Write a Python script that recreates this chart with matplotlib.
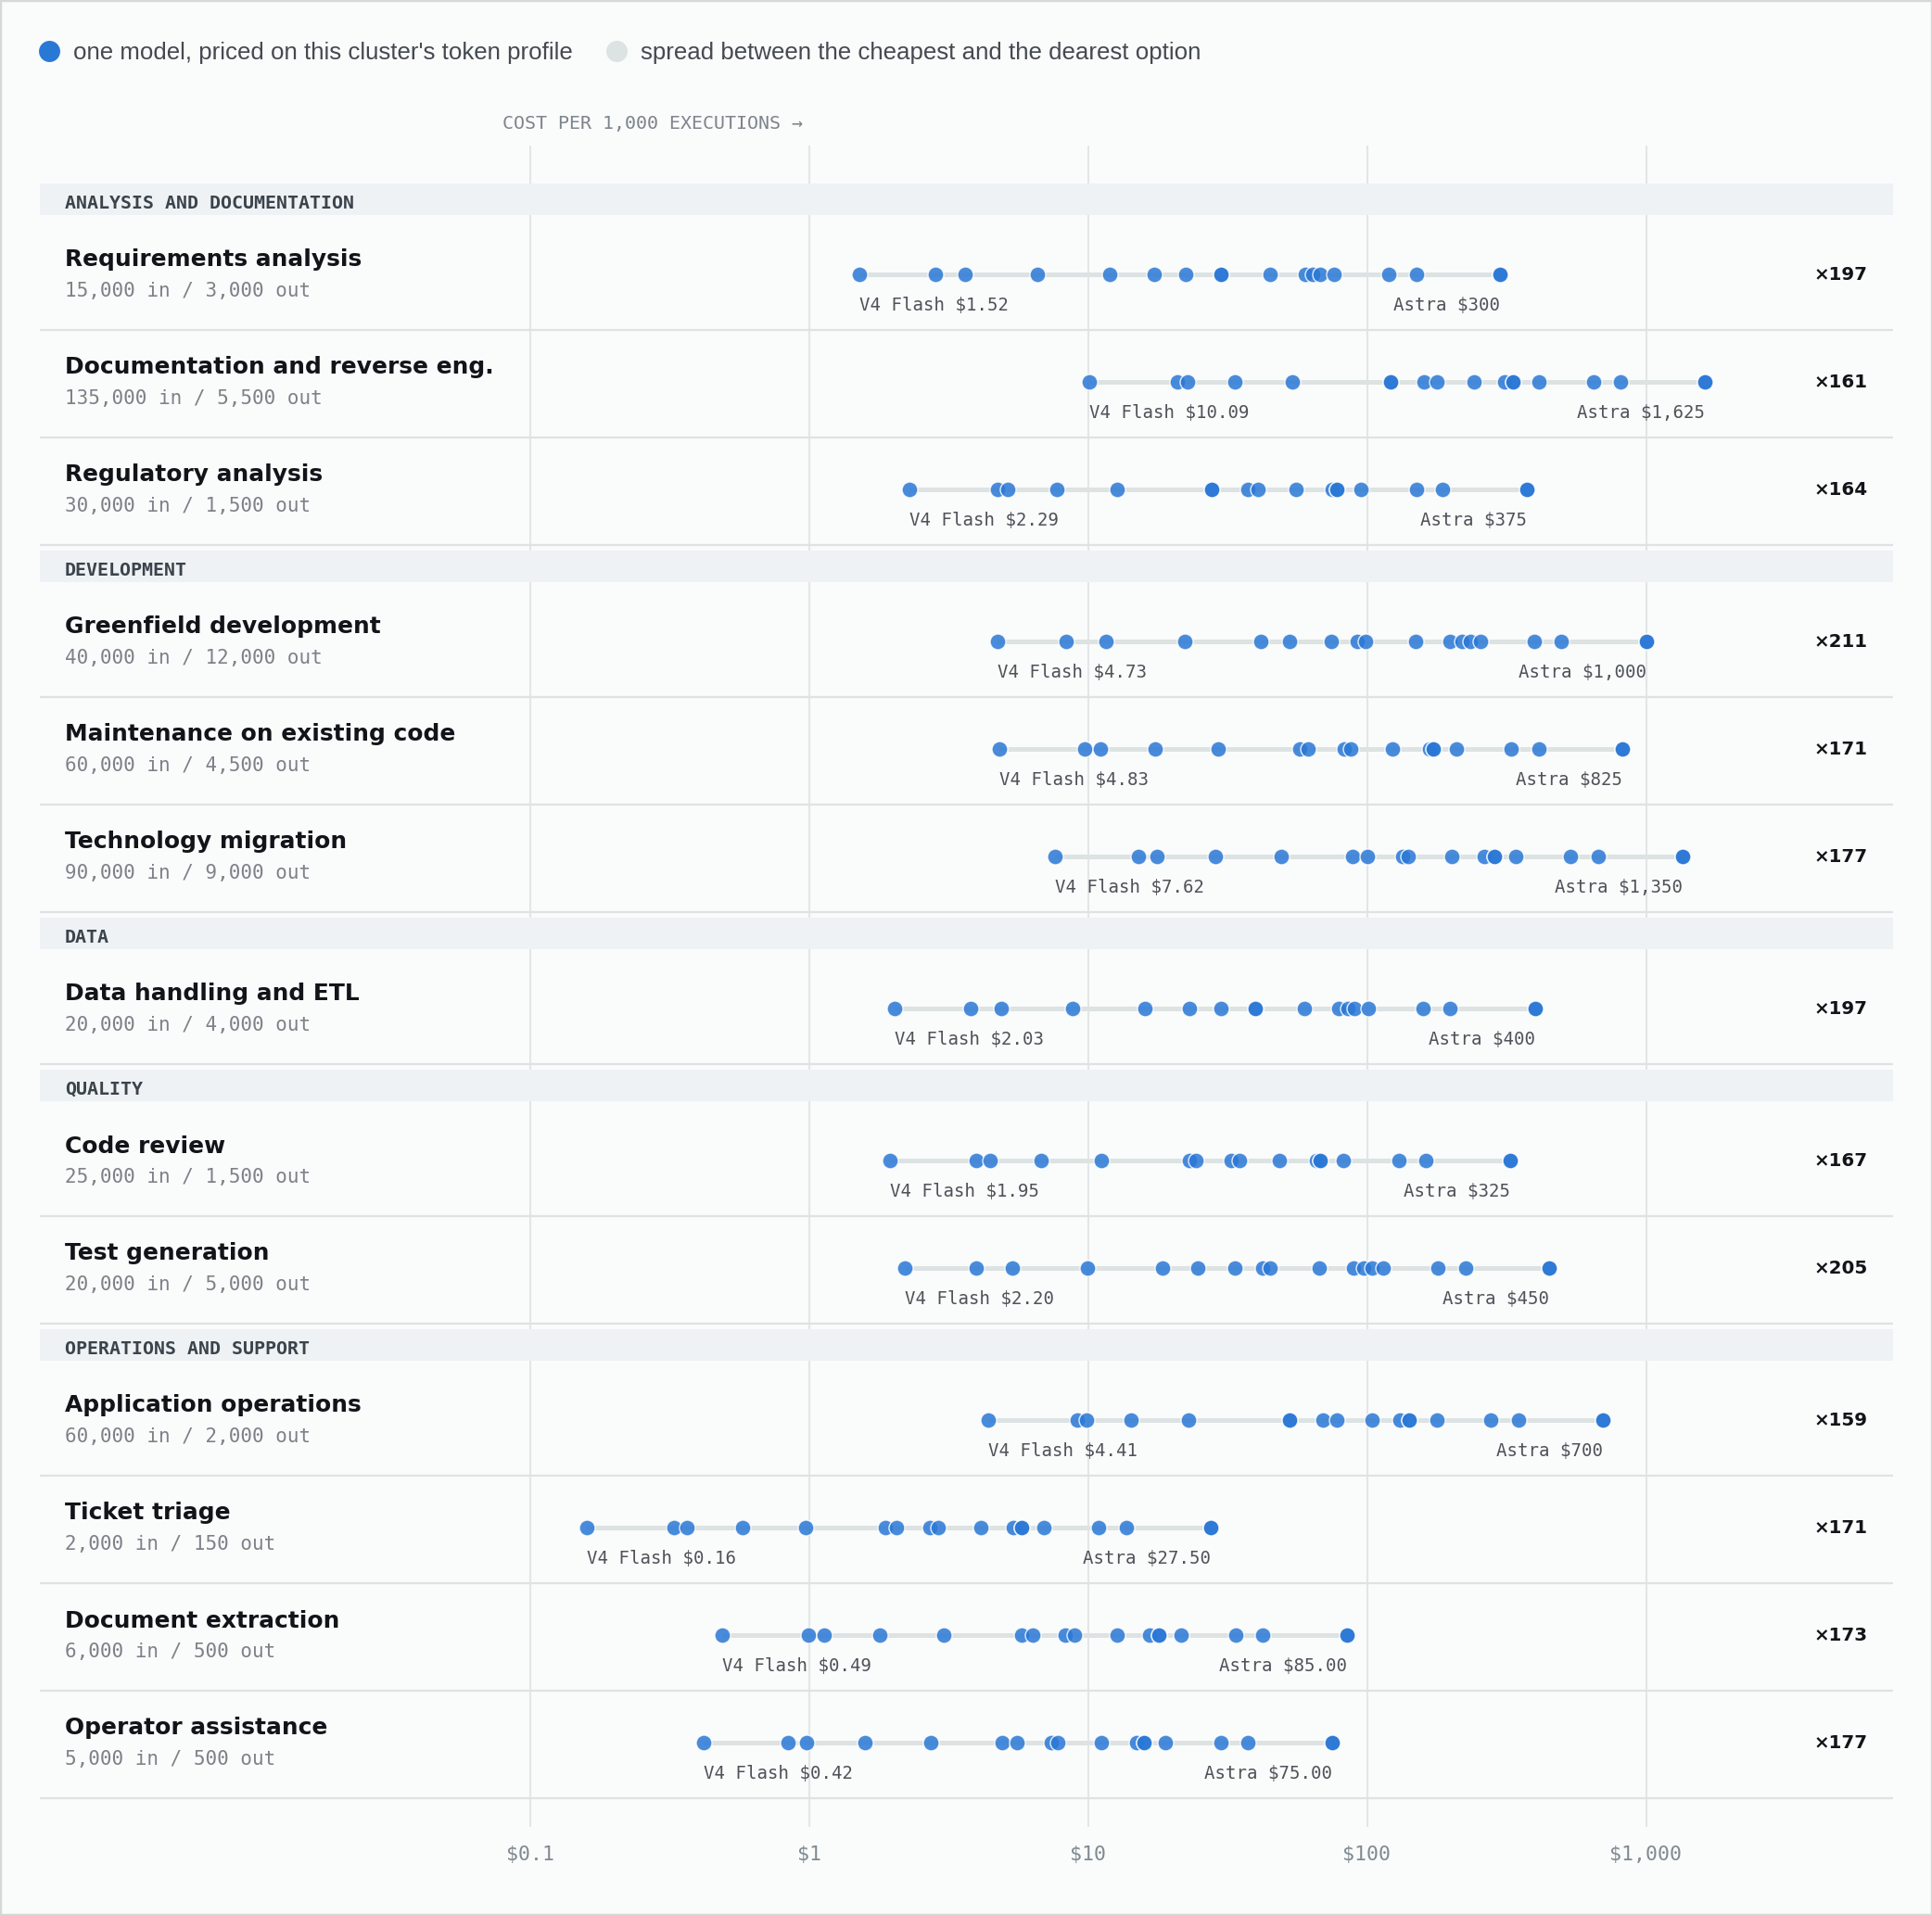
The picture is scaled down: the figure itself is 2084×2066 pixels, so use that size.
import matplotlib
matplotlib.use("Agg")
import matplotlib.pyplot as plt
import numpy as np
from matplotlib.lines import Line2D
from matplotlib.patches import Rectangle
from matplotlib.ticker import NullLocator
import matplotlib.transforms as mtransforms

# ---- data (cost per 1,000 executions, USD; one value per model) ----
groups = ["ANALYSIS AND DOCUMENTATION", "DEVELOPMENT", "DATA", "QUALITY",
          "OPERATIONS AND SUPPORT"]
row_group = [0, 0, 0, 1, 1, 1, 2, 3, 3, 4, 4, 4, 4]
tasks = ["Requirements analysis", "Documentation and reverse eng.",
         "Regulatory analysis", "Greenfield development",
         "Maintenance on existing code", "Technology migration",
         "Data handling and ETL", "Code review", "Test generation",
         "Application operations", "Ticket triage", "Document extraction",
         "Operator assistance"]
tokens_in = [15000, 135000, 30000, 40000, 60000, 90000, 20000, 25000, 20000,
             60000, 2000, 6000, 5000]
tokens_out = [3000, 5500, 1500, 12000, 4500, 9000, 4000, 1500, 5000,
              2000, 150, 500, 500]
ratios = [197, 161, 164, 211, 171, 177, 197, 167, 205, 159, 171, 173, 177]

costs = [
    [1.52, 2.85, 3.64, 6.6, 12.0, 17.3, 22.4, 29.9, 29.9, 44.9, 60.1, 64.1,
     67.9, 76.0, 120, 150, 300, 300],
    [10.09, 20.9, 22.8, 33.5, 54.0, 121.5, 121.5, 159.6, 178.6, 241.6, 311.5,
     333.4, 333.4, 413, 647, 810, 1625, 1625],
    [2.29, 4.76, 5.17, 7.75, 12.7, 27.7, 27.7, 37.3, 40.7, 55.9, 74.9, 77.9,
     77.9, 95.1, 150, 187, 375, 375],
    [4.73, 8.38, 11.6, 22.3, 41.8, 52.8, 74.6, 92.1, 99.2, 149, 199, 219, 234,
     255, 399, 497, 1000, 1000],
    [4.83, 9.77, 11.05, 17.4, 29.2, 57.3, 61.5, 82.9, 87.8, 123, 168, 173,
     173, 209, 329, 412, 825, 825],
    [7.62, 15.2, 17.7, 28.6, 49.2, 88.9, 100.6, 133.9, 140.4, 201, 263, 286,
     286, 342, 538, 673, 1350, 1350],
    [2.03, 3.80, 4.88, 8.79, 16.0, 23.1, 29.9, 39.8, 39.8, 59.8, 79.3, 85.4,
     90.5, 101.4, 159, 199, 400, 400],
    [1.95, 3.99, 4.45, 6.78, 11.2, 23.1, 24.4, 32.5, 35.0, 48.7, 65.7, 67.7,
     67.7, 82.5, 130, 162, 325, 325],
    [2.20, 3.99, 5.35, 9.98, 18.5, 24.8, 33.7, 42.3, 44.8, 67.4, 89.2, 97.4,
     104.1, 114.6, 179, 225, 450, 450],
    [4.41, 9.17, 9.92, 14.3, 22.9, 52.7, 52.7, 69.3, 77.9, 104, 131, 142, 142,
     178, 278, 349, 700, 700],
    [0.16, 0.328, 0.367, 0.578, 0.971, 1.886, 2.054, 2.71, 2.91, 4.12, 5.41,
     5.78, 5.78, 6.97, 10.96, 13.7, 27.5, 27.5],
    [0.49, 0.995, 1.133, 1.795, 3.04, 5.77, 6.36, 8.29, 8.97, 12.7, 16.6,
     17.9, 17.9, 21.6, 33.8, 42.4, 85.0, 85.0],
    [0.42, 0.845, 0.984, 1.59, 2.74, 4.93, 5.59, 7.37, 7.82, 11.2, 14.9,
     15.9, 15.9, 19.0, 29.9, 37.4, 75.0, 75.0],
]
tick_vals = [0.1, 1, 10, 100, 1000]
tick_labels = ["$0.1", "$1", "$10", "$100", "$1,000"]

# ---- style ----
W, H = 2084, 2066
BG = "#fafbfb"
BLUE = "#2a78d6"
SPREAD = "#dde2e2"
GRID = "#e3e6e7"
BAND = "#eef2f5"
SANS = "DejaVu Sans"
MONO = "DejaVu Sans Mono"


def money(v):
    if v >= 100:
        return "${:,.0f}".format(v)
    return "${:.2f}".format(v)


fig = plt.figure(figsize=(W / 100, H / 100), dpi=100, facecolor=BG)
top, bottom, left, right = 157, 1971, 43, 2042
ax = fig.add_axes([left / W, 1 - bottom / H, (right - left) / W, (bottom - top) / H])
ax.set_facecolor("none")
ax.set_xscale("log")
# $0.1 sits at px 571 and every decade is 301 px wide
ax.set_xlim(10 ** ((left - 872.5) / 301), 10 ** ((right - 872.5) / 301))
ax.set_ylim(bottom, top)
for s in ax.spines.values():
    s.set_visible(False)
ax.set_yticks([])
ax.xaxis.set_minor_locator(NullLocator())
ax.set_xticks(tick_vals)
ax.set_xticklabels(tick_labels, family=MONO, fontsize=15.5, color="#808a92")
ax.tick_params(axis="x", length=0, pad=14.5)
ax.set_axisbelow(True)
ax.grid(axis="x", color=GRID, lw=1.5, zorder=0)

lab = mtransforms.blended_transform_factory(ax.transAxes, ax.transData)
x_lab = 27 / (right - left)

y = 198
prev_group = None
for i, task in enumerate(tasks):
    g = row_group[i]
    if g != prev_group:
        if prev_group is not None:
            y += 6
        ax.axhspan(y, y + 34, color=BAND, lw=0, zorder=1)
        ax.text(x_lab, y + 21.5, groups[g], transform=lab,
                family=MONO, weight="bold", fontsize=14.4, color="#3b434b",
                va="center", ha="left", zorder=4)
        y += 34 + 8
        prev_group = g
    t = y
    yc = t + 56
    vals = np.array(costs[i])
    ax.hlines(yc, vals.min(), vals.max(), color=SPREAD, lw=3.6, zorder=2)
    ax.scatter(vals, np.full(len(vals), yc), s=150, color=BLUE, alpha=0.85,
               edgecolors="white", linewidths=1.0, zorder=3)
    ax.text(vals.min(), yc + 34, "V4 Flash " + money(vals.min()), family=MONO,
            fontsize=13.7, color="#4d5358", ha="left", va="center", zorder=4)
    ax.text(vals.max(), yc + 34, "Astra " + money(vals.max()), family=MONO,
            fontsize=13.7, color="#4d5358", ha="right", va="center", zorder=4)
    ax.text(x_lab, t + 40.5, task, transform=lab, family=SANS,
            weight="bold", fontsize=17.9, color="#111418", ha="left",
            va="center")
    ax.text(x_lab, t + 74,
            "{:,} in / {:,} out".format(tokens_in[i], tokens_out[i]),
            transform=lab, family=MONO, fontsize=15, color="#7d8288",
            ha="left", va="center")
    ax.text((2015 - left) / (right - left), yc, "\u00d7{}".format(ratios[i]),
            transform=lab, family=SANS, weight="bold", fontsize=14.3,
            color="#111418", ha="right", va="center")
    ax.axhline(t + 116, color="#dde3e3", lw=1.6, zorder=1.2)
    y = t + 116

fig.text(542 / W, 1 - 133 / H, "COST PER 1,000 EXECUTIONS \u2192", family=MONO,
         fontsize=14.4, color="#7d858c", ha="left", va="center")

handles = [
    Line2D([], [], marker="o", ls="", markersize=16.5, color=BLUE,
           markeredgewidth=0),
    Line2D([], [], marker="o", ls="", markersize=16.5, color="#dde2e2",
           markeredgewidth=0),
]
fig.legend(handles, ["one model, priced on this cluster's token profile",
                     "spread between the cheapest and the dearest option"],
           loc="center left", bbox_to_anchor=(40 / W, 1 - 57 / H), ncol=2,
           frameon=False, prop={"family": "Liberation Sans", "size": 18.65},
           labelcolor="#444a50", handlelength=1.0, handletextpad=0.52,
           columnspacing=1.3, borderpad=0, borderaxespad=0)

fig.patches.append(Rectangle((0, 0), 1, 1, transform=fig.transFigure,
                             fill=False, edgecolor="#d3d9d8", lw=2.5))

plt.savefig("out.png", dpi=100, facecolor=BG)
